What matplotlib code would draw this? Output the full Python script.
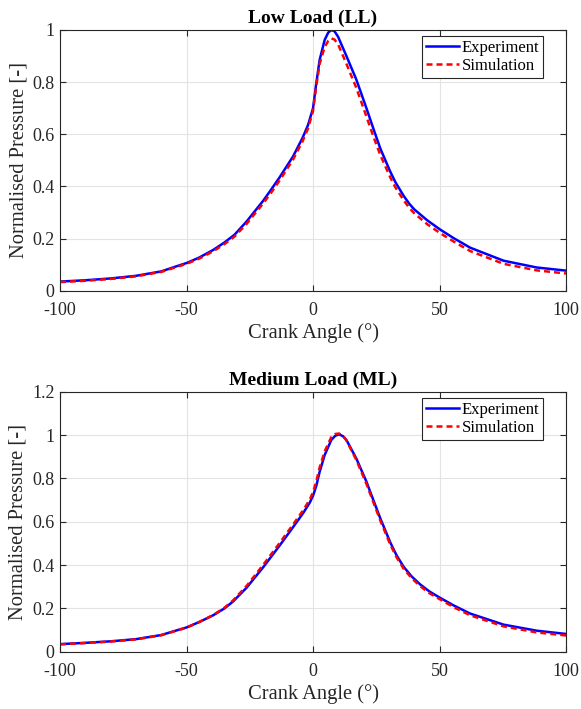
import numpy as np
import matplotlib.pyplot as plt

plt.rcParams['font.family'] = ['Liberation Serif', 'DejaVu Serif']
plt.rcParams['axes.unicode_minus'] = False

# Low Load: crank angle (deg) and normalised pressure
angle_ll = [-100, -90, -80, -70, -60, -52.6, -50, -45, -39.5, -35, -31, -26.3,
            -19.7, -16.4, -13.2, -7.9, -4.2, -2, 0, 1.2, 2.6, 4.6, 6, 7.2, 8.5,
            9.9, 13.2, 17.1, 21.1, 23.9, 26.6, 30.5, 32.5, 35.8, 38, 40, 45, 50,
            55.5, 62.1, 75.3, 88.4, 100]
exp_ll = [0.035, 0.040, 0.047, 0.057, 0.074, 0.098, 0.106, 0.127, 0.156, 0.185,
          0.215, 0.265, 0.345, 0.390, 0.435, 0.515, 0.585, 0.635, 0.700, 0.790,
          0.885, 0.962, 0.990, 1.000, 0.995, 0.974, 0.900, 0.810, 0.700, 0.620,
          0.545, 0.457, 0.417, 0.364, 0.334, 0.312, 0.271, 0.236, 0.202, 0.165,
          0.115, 0.089, 0.077]
sim_ll = [0.033, 0.038, 0.045, 0.055, 0.072, 0.095, 0.103, 0.123, 0.151, 0.179,
          0.208, 0.256, 0.335, 0.378, 0.423, 0.503, 0.572, 0.622, 0.690, 0.780,
          0.870, 0.935, 0.958, 0.968, 0.963, 0.945, 0.870, 0.778, 0.668, 0.590,
          0.520, 0.435, 0.397, 0.347, 0.318, 0.297, 0.256, 0.222, 0.189, 0.152,
          0.103, 0.078, 0.066]

# Medium Load
angle_ml = [-100, -90, -80, -70, -60, -52.6, -50, -45, -39.5, -35, -31.6, -26.3,
            -19.7, -13.2, -7.9, -3.9, -1.3, 0, 1.3, 2.6, 4.6, 7.2, 8.8, 10.3, 11.8,
            13.2, 17.1, 21.1, 22.6, 26.6, 30.5, 33, 35.8, 39, 42.4, 46, 50, 55.5,
            62.1, 75.3, 88.4, 100]
exp_ml = [0.035, 0.041, 0.048, 0.058, 0.077, 0.103, 0.112, 0.137, 0.168, 0.200,
          0.232, 0.295, 0.390, 0.490, 0.575, 0.640, 0.688, 0.720, 0.766, 0.830,
          0.908, 0.977, 0.997, 1.003, 0.995, 0.977, 0.892, 0.785, 0.738, 0.615,
          0.505, 0.445, 0.392, 0.347, 0.310, 0.278, 0.250, 0.214, 0.176, 0.125,
          0.097, 0.082]
sim_ml = [0.034, 0.040, 0.047, 0.057, 0.076, 0.102, 0.111, 0.137, 0.169, 0.203,
          0.237, 0.303, 0.401, 0.502, 0.587, 0.653, 0.702, 0.737, 0.787, 0.850,
          0.925, 0.990, 1.005, 1.007, 0.997, 0.975, 0.885, 0.775, 0.728, 0.605,
          0.495, 0.436, 0.383, 0.339, 0.302, 0.270, 0.243, 0.206, 0.168, 0.117,
          0.089, 0.075]

panels = [
    ('Low Load (LL)', angle_ll, exp_ll, sim_ll, 1.0, [0, 0.2, 0.4, 0.6, 0.8, 1]),
    ('Medium Load (ML)', angle_ml, exp_ml, sim_ml, 1.2, [0, 0.2, 0.4, 0.6, 0.8, 1, 1.2]),
]

fig = plt.figure(figsize=(5.81, 7.09), dpi=100)
rects = [[0.1033, 0.590, 0.871, 0.3677], [0.1033, 0.0808, 0.871, 0.3667]]

for rect, (title, ang, exp, sim, ymax, yt) in zip(rects, panels):
    ax = fig.add_axes(rect)
    ax.plot(ang, exp, color='#0000ff', lw=1.8, label='Experiment')
    ax.plot(ang, sim, color='#ff0000', lw=1.8, ls=(0, (2.4, 1.6)), label='Simulation')
    ax.set_xlim(-100, 100)
    ax.set_ylim(0, ymax)
    ax.set_xticks([-100, -50, 0, 50, 100])
    ax.set_yticks(yt)
    ax.set_yticklabels([f'{v:g}' for v in yt])
    ax.grid(True, color='#e3e3e3', lw=0.8)
    ax.set_axisbelow(True)
    ax.tick_params(direction='in', top=True, right=True, labelsize=13,
                   colors='#262626', length=4, width=0.8)
    ax.tick_params(axis='x', pad=8)
    ax.tick_params(axis='y', pad=4)
    for s in ax.spines.values():
        s.set_color('#262626')
        s.set_linewidth(0.8)
    ax.set_title(title, fontsize=14, fontweight='bold', pad=5)
    ax.set_ylabel('Normalised Pressure [-]', fontsize=14.8, color='#262626', labelpad=3)
    ax.set_xlabel('Crank Angle (°)', fontsize=14.8, color='#262626', labelpad=3)
    leg = ax.legend(loc='upper right', bbox_to_anchor=(0.955, 0.977), fontsize=12,
                    fancybox=False, framealpha=1, edgecolor='#262626',
                    handlelength=2.0, handletextpad=0.15, borderpad=0.25,
                    labelspacing=0.1, borderaxespad=0)
    leg.get_frame().set_linewidth(0.8)

fig.savefig('out.png', dpi=100)
